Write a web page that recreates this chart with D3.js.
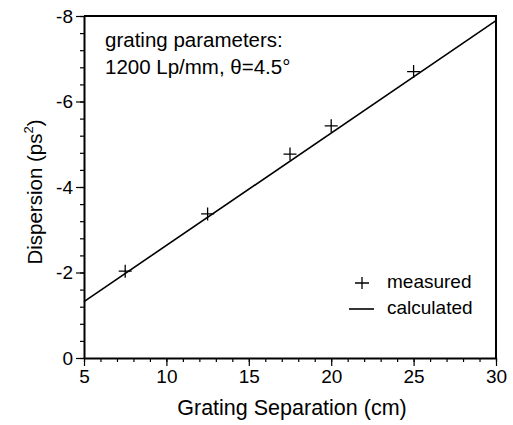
<!DOCTYPE html>
<html>
<head>
<meta charset="utf-8">
<script src="https://cdn.jsdelivr.net/npm/d3@7"></script>
<style>
  body { margin: 0; background: #fff; }
  svg text { font-family: "Liberation Sans", Arial, Helvetica, sans-serif; fill: #000; }
  .axis path, .axis line { stroke: #000; }
</style>
</head>
<body>
<div id="chart-area"><svg></svg></div>
<script>
const separations = [7.5, 12.5, 17.5, 20, 25];
const measured = [-2.03, -3.37, -4.77, -5.43, -6.7];
const calcSeparations = [5, 30];
const calculated = [-1.32, -7.89];
const xTicks = [5, 10, 15, 20, 25, 30];
const yTicks = [0, -2, -4, -6, -8];

const chartSize = { width: 513, height: 425 };
const margin = { left: 84, right: 17, top: 16, bottom: 67 };
const width = chartSize.width - margin.left - margin.right;
const height = chartSize.height - margin.top - margin.bottom;

const svg = d3.select("#chart-area svg")
  .attr("width", chartSize.width)
  .attr("height", chartSize.height);

const g = svg.append("g")
  .attr("transform", `translate(${margin.left},${margin.top})`);

const x = d3.scaleLinear().domain([5, 30]).range([0, width]);
const y = d3.scaleLinear().domain([0, -8]).range([height, 0]);

// minor ticks
g.append("g")
  .attr("class", "x axis")
  .attr("transform", `translate(0,${height})`)
  .call(d3.axisBottom(x).tickValues(d3.range(5, 31, 1)).tickSize(4).tickFormat(""))
  .call(a => a.select(".domain").remove());
g.append("g")
  .attr("class", "y axis")
  .call(d3.axisLeft(y).tickValues(d3.range(0, 21).map(i => -i * 0.4)).tickSize(4).tickFormat(""))
  .call(a => a.select(".domain").remove());

// major ticks, plain hyphen for minus like the original
const xAxis = g.append("g")
  .attr("class", "x axis")
  .attr("transform", `translate(0,${height})`)
  .call(d3.axisBottom(x).tickValues(xTicks).tickSize(8).tickPadding(4).tickSizeOuter(0).tickFormat(d => String(d)));
xAxis.selectAll("text").attr("font-size", 19);

const yAxis = g.append("g")
  .attr("class", "y axis")
  .call(d3.axisLeft(y).tickValues(yTicks).tickSize(8).tickPadding(3).tickSizeOuter(0).tickFormat(d => String(d)));
yAxis.selectAll("text").attr("font-size", 19);

g.selectAll(".axis .domain").attr("stroke-width", 2);
g.selectAll(".axis line").attr("stroke-width", 1.2);

// top and right frame
g.append("path")
  .attr("d", `M0,0H${width}V${height}`)
  .attr("fill", "none")
  .attr("stroke", "#000")
  .attr("stroke-width", 2);

// calculated line
const line = d3.line().x(d => x(d[0])).y(d => y(d[1]));
g.append("path")
  .attr("d", line(d3.zip(calcSeparations, calculated)))
  .attr("fill", "none")
  .attr("stroke", "#000")
  .attr("stroke-width", 1.6);

// measured points
g.selectAll(".pt")
  .data(d3.zip(separations, measured))
  .enter()
  .append("path")
  .attr("class", "pt")
  .attr("transform", d => `translate(${x(d[0])},${y(d[1])})`)
  .attr("d", "M-6.5,0H6.5M0,-6.5V6.5")
  .attr("stroke", "#000")
  .attr("stroke-width", 1.3);

// annotation
const note = g.append("text").attr("font-size", 20.5);
note.append("tspan").attr("x", 21).attr("y", 31).text("grating parameters:");
note.append("tspan").attr("x", 21).attr("y", 58).text("1200 Lp/mm, θ=4.5°");

// legend
const legend = g.append("g").attr("transform", "translate(265,267)");
legend.append("path").attr("d", "M6,0H20M13,-6V6").attr("stroke", "#000").attr("stroke-width", 1.3);
legend.append("text").attr("x", 38).attr("y", 5).attr("font-size", 19).text("measured");
legend.append("path").attr("d", "M0,26H25").attr("stroke", "#000").attr("stroke-width", 1.6);
legend.append("text").attr("x", 38).attr("y", 31).attr("font-size", 19).text("calculated");

// axis labels
g.append("text")
  .attr("x", 208)
  .attr("y", height + 57)
  .attr("text-anchor", "middle")
  .attr("font-size", 21.5)
  .text("Grating Separation (cm)");

const yl = g.append("text")
  .attr("transform", `translate(-42,176) rotate(-90)`)
  .attr("text-anchor", "middle")
  .attr("font-size", 20.5);
yl.append("tspan").text("Dispersion (ps");
yl.append("tspan").attr("dy", -9).attr("font-size", 13).text("2");
yl.append("tspan").attr("dy", 9).text(")");
</script>
</body>
</html>
